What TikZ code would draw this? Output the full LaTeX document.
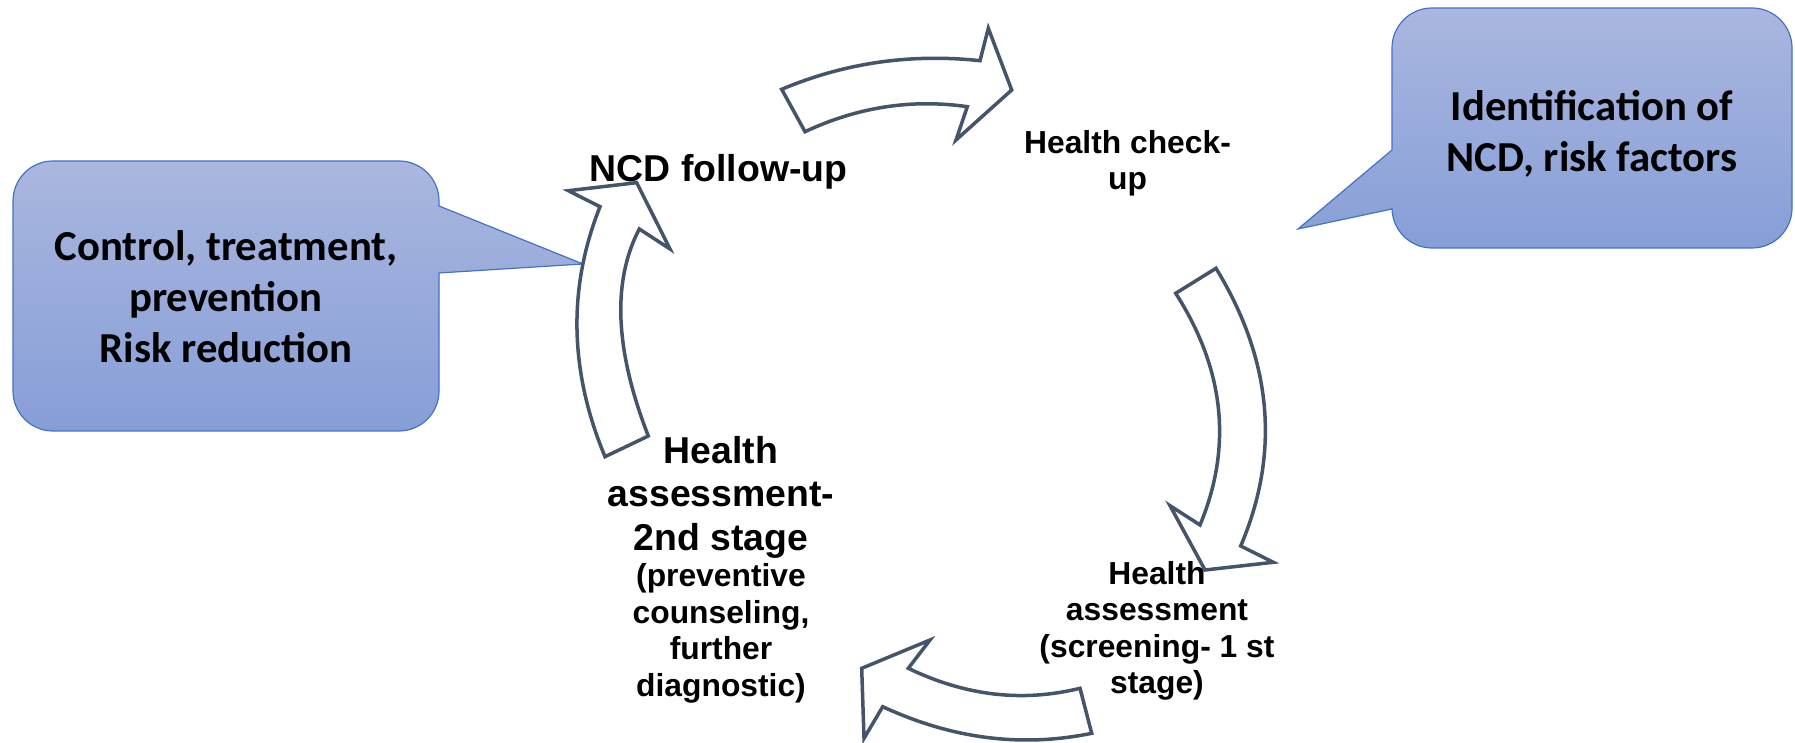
\documentclass[tikz,border=0pt]{standalone}
\usepackage{fontspec}
\setmainfont{Liberation Sans}
\newfontfamily\calloutfont{Carlito}
\usepackage{tikz}
\definecolor{arrowline}{RGB}{68,84,106}
\definecolor{calloutline}{RGB}{68,114,196}
\definecolor{callouttop}{RGB}{170,183,223}
\definecolor{calloutbottom}{RGB}{134,158,215}
\newcommand{\headsize}{\fontsize{37.4}{43.5}\selectfont}
\newcommand{\notesize}{\fontsize{31.8}{36.5}\selectfont}

\begin{document}
\begin{tikzpicture}[x=1pt, y=1pt,
    cyclearrow/.style={draw=arrowline, fill=white, line width=3.5pt, line join=miter},
    calloutbox/.style={draw=calloutline, line width=1.2pt, top color=callouttop, bottom color=calloutbottom},
    calloutlabel/.style={font=\calloutfont\bfseries\fontsize{42.7}{51}\selectfont, align=center, inner sep=0pt},
    headlabel/.style={font=\bfseries\headsize, align=center, inner sep=0pt},
    notelabel/.style={font=\bfseries\notesize, align=center, inner sep=0pt}]

    \useasboundingbox (0,0) rectangle (1795,743);

    % === BULLES ===
    % gauche
    \draw[calloutbox] (53,582) -- (399,582) arc[start angle=90, end angle=0, radius=40]
        -- (439,537) -- (583,479) -- (439,470)
        -- (439,352) arc[start angle=0, end angle=-90, radius=40]
        -- (53,312) arc[start angle=270, end angle=180, radius=40]
        -- (13,542) arc[start angle=180, end angle=90, radius=40] -- cycle;
    \node[calloutlabel, anchor=north] (leftnote) at (226,513) {Control, treatment,\\prevention\\Risk reduction};

    % droite
    \draw[calloutbox] (1432,735) -- (1752,735) arc[start angle=90, end angle=0, radius=40]
        -- (1792,535) arc[start angle=0, end angle=-90, radius=40]
        -- (1432,495) arc[start angle=270, end angle=180, radius=40]
        -- (1392,534) -- (1298,514) -- (1392,593)
        -- (1392,695) arc[start angle=180, end angle=90, radius=40] -- cycle;
    \node[calloutlabel, anchor=north] (rightnote) at (1592,653) {Identification of\\NCD, risk factors};

    % === FLÈCHES DU CYCLE ===
    % haut
    \draw[cyclearrow] (781.7,653.7) .. controls (844.5,680.1) and (910.6,689.7) .. (980,682.3)
        -- (988.3,714.7) -- (1011.7,653) -- (956,603) -- (967.3,636.3)
        .. controls (911.7,644.3) and (857.6,635.9) .. (805,611.3) -- cycle;
    % droite
    \draw[cyclearrow] (1216,474.7) .. controls (1272.2,382.8) and (1280.4,290.2) .. (1240.7,197)
        -- (1273.3,180.7) -- (1205,173) -- (1170,237.3) -- (1200,218)
        .. controls (1232.6,296.4) and (1224.5,373.6) .. (1175.7,449.7) -- cycle;
    % bas
    \draw[cyclearrow] (1091.7,9.7) .. controls (1021.7,-4.7) and (952.1,4.1) .. (882.7,36.3)
        -- (864,4.7) -- (861.7,74.7) -- (930,103) -- (908.3,74.7)
        .. controls (965.4,47.1) and (1022.6,40.5) .. (1080,54.7) -- cycle;
    % gauche
    \draw[cyclearrow] (605,286.3) .. controls (569.3,371.9) and (567.7,455.3) .. (600,536.3)
        -- (568.3,552.3) -- (636.7,560.3) -- (670,494) -- (639.3,514)
        .. controls (611.9,461.7) and (614.9,392.7) .. (648.3,307) -- cycle;

    % === ÉTAPES ===
    \node[headlabel, anchor=base] (followup) at (718.5,561) {NCD follow-up};
    \node[notelabel, anchor=north] (checkup) at (1127.5,612.8) {Health check-\\up};
    \node[notelabel, anchor=north] (screening) at (1157,181.8) {Health\\assessment\\(screening- 1 st\\stage)};
    \node[notelabel, anchor=north] (stagetwo) at (721,306.8)
        {{\headsize Health}\\[7pt]{\headsize assessment-}\\[7pt]{\headsize 2nd stage}\\(preventive\\counseling,\\further\\diagnostic)};

\end{tikzpicture}
\end{document}
